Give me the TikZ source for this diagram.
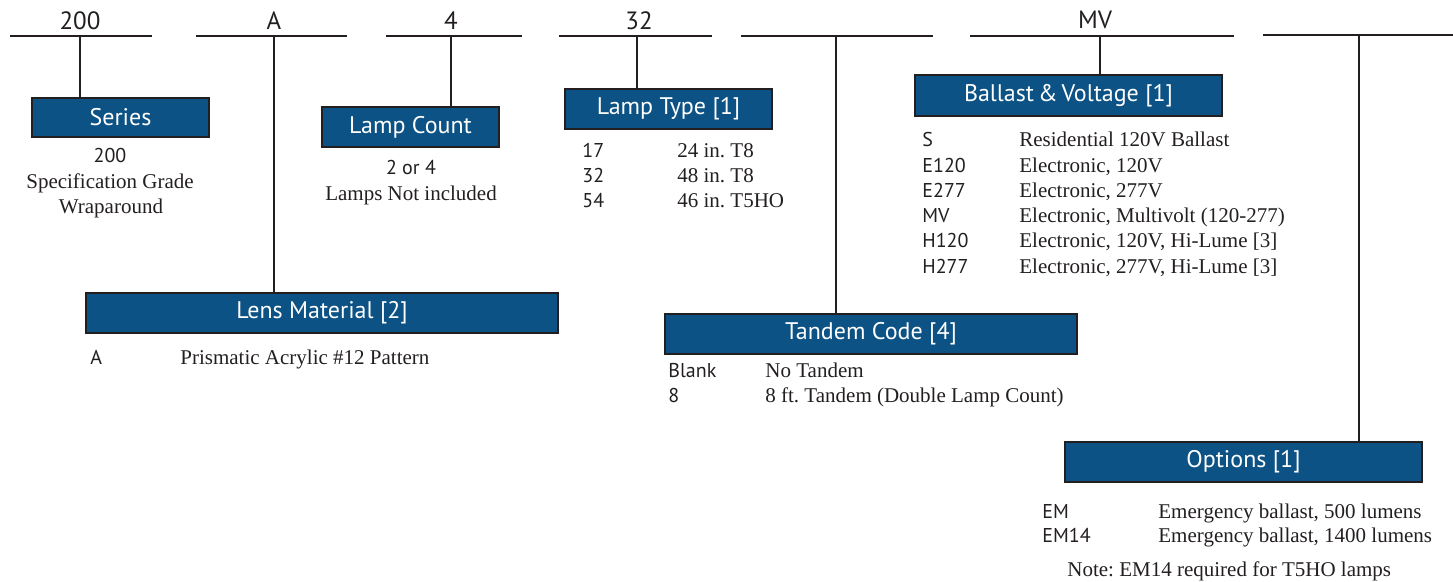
\documentclass[tikz,border=0pt]{standalone}
\usepackage{fontspec}
\setmainfont{Liberation Serif}
\setsansfont{PT Sans}
\definecolor{boxblue}{HTML}{0C5284}
\definecolor{ink}{HTML}{231F20}
\tikzset{
  bar/.style={draw=ink, line width=1.3pt},
  codebox/.style={draw=ink, line width=1pt, fill=boxblue, text=white, inner sep=0pt,
    font=\sffamily\fontsize{12}{14}\selectfont},
  toplabel/.style={anchor=base, inner sep=0pt, text=ink, font=\sffamily\fontsize{12.5}{14}\selectfont},
  code/.style={anchor=base west, inner sep=0pt, text=ink, font=\sffamily\fontsize{10}{12}\selectfont},
  desc/.style={anchor=base west, inner sep=0pt, text=ink, font=\fontsize{10.5}{12}\selectfont},
  cdesc/.style={anchor=base, inner sep=0pt, text=ink, font=\fontsize{10.5}{12}\selectfont},
  ccode/.style={anchor=base, inner sep=0pt, text=ink, font=\sffamily\fontsize{10}{12}\selectfont},
}
\begin{document}
\frenchspacing
\begin{tikzpicture}[x=0.5pt, y=-0.5pt]
\useasboundingbox (0,0) rectangle (1453,582);

% top bars
\draw[bar] (10,36) -- (152,36);
\draw[bar] (196,36) -- (347,36);
\draw[bar] (386,36) -- (522,36);
\draw[bar] (559,36) -- (712,36);
\draw[bar] (741,36) -- (933,36);
\draw[bar] (970,36) -- (1234,36);
\draw[bar] (1263,35) -- (1453,35);

\node[toplabel] (t1) at (80,30) {200};
\node[toplabel] (t2) at (274,30) {A};
\node[toplabel] (t3) at (451,30) {4};
\node[toplabel] (t4) at (639,30) {32};
\node[toplabel] (t6) at (1095,29) {MV};

\coordinate (j1) at (80,36);
\coordinate (j2) at (274,36);
\coordinate (j3) at (451,36);
\coordinate (j4) at (637,36);
\coordinate (j5) at (836,36);
\coordinate (j6) at (1100,36);
\coordinate (j7) at (1359,35);

% boxes
\node[codebox, minimum width=88.5pt, minimum height=19.5pt] (series) at (120.5,117.5) {Series};
\node[codebox, minimum width=88.5pt, minimum height=20pt] (count) at (410.5,127) {Lamp Count};
\node[codebox, minimum width=103.5pt, minimum height=20pt] (type) at (668.5,109) {Lamp Type [1]};
\node[codebox, minimum width=153.5pt, minimum height=20.5pt] (ballast) at (1068.5,95.5) {Ballast\,\&\,Voltage [1]};
\node[codebox, minimum width=236pt, minimum height=20pt] (lens) at (322,313) {Lens Material [2]};
\node[codebox, minimum width=206pt, minimum height=20pt] (tandem) at (871,334) {Tandem Code [4]};
\node[codebox, minimum width=178.5pt, minimum height=20pt] (options) at (1243.5,462) {Options [1]};

% connectors
\draw[bar] (j1) -- (j1 |- series.north);
\draw[bar] (j2) -- (j2 |- lens.north);
\draw[bar] (j3) -- (j3 |- count.north);
\draw[bar] (j4) -- (j4 |- type.north);
\draw[bar] (j5) -- (j5 |- tandem.north);
\draw[bar] (j6) -- (j6 |- ballast.north);
\draw[bar] (j7) -- (j7 |- options.north);

% Series
\node[ccode] (s1) at (110,163) {200};
\node[cdesc] (s2) at (110,189) {Specification Grade};
\node[cdesc] (s3) at (111,214) {Wraparound};

% Lamp count
\node[ccode] (c1) at (411,175) {2 or 4};
\node[cdesc] (c2) at (411,201) {Lamps Not included};

% Lamp type
\node[code] (lt1a) at (582,158) {17};
\node[desc] (lt1b) at (677,158) {24 in. T8};
\node[code] (lt2a) at (582,183) {32};
\node[desc] (lt2b) at (677,183) {48 in. T8};
\node[code] (lt3a) at (582,208) {54};
\node[desc] (lt3b) at (677,208) {46 in. T5HO};

% Ballast
\node[code] (b1a) at (922,147) {S};
\node[desc] (b1b) at (1019,147) {Residential 120V Ballast};
\node[code] (b2a) at (922,173) {E120};
\node[desc] (b2b) at (1019,173) {Electronic, 120V};
\node[code] (b3a) at (922,198) {E277};
\node[desc] (b3b) at (1019,198) {Electronic, 277V};
\node[code] (b4a) at (922,223) {MV};
\node[desc] (b4b) at (1019,223) {Electronic, Multivolt (120-277)};
\node[code] (b5a) at (922,248) {H120};
\node[desc] (b5b) at (1019,248) {Electronic, 120V, Hi-Lume [3]};
\node[code] (b6a) at (922,274) {H277};
\node[desc] (b6b) at (1019,274) {Electronic, 277V, Hi-Lume [3]};

% Lens
\node[code] (l1a) at (90,365) {A};
\node[desc] (l1b) at (180,365) {Prismatic Acrylic \#12 Pattern};

% Tandem
\node[code] (td1a) at (668,378) {Blank};
\node[desc] (td1b) at (765,378) {No Tandem};
\node[code] (td2a) at (668,403) {8};
\node[desc] (td2b) at (765,403) {8 ft. Tandem (Double Lamp Count)};

% Options
\node[code] (o1a) at (1042,519) {EM};
\node[desc] (o1b) at (1158,519) {Emergency ballast, 500 lumens};
\node[code] (o2a) at (1042,543) {EM14};
\node[desc] (o2b) at (1158,543) {Emergency ballast, 1400 lumens};
\node[desc] (note) at (1067,577) {Note: EM14 required for T5HO lamps};
\end{tikzpicture}
\end{document}
